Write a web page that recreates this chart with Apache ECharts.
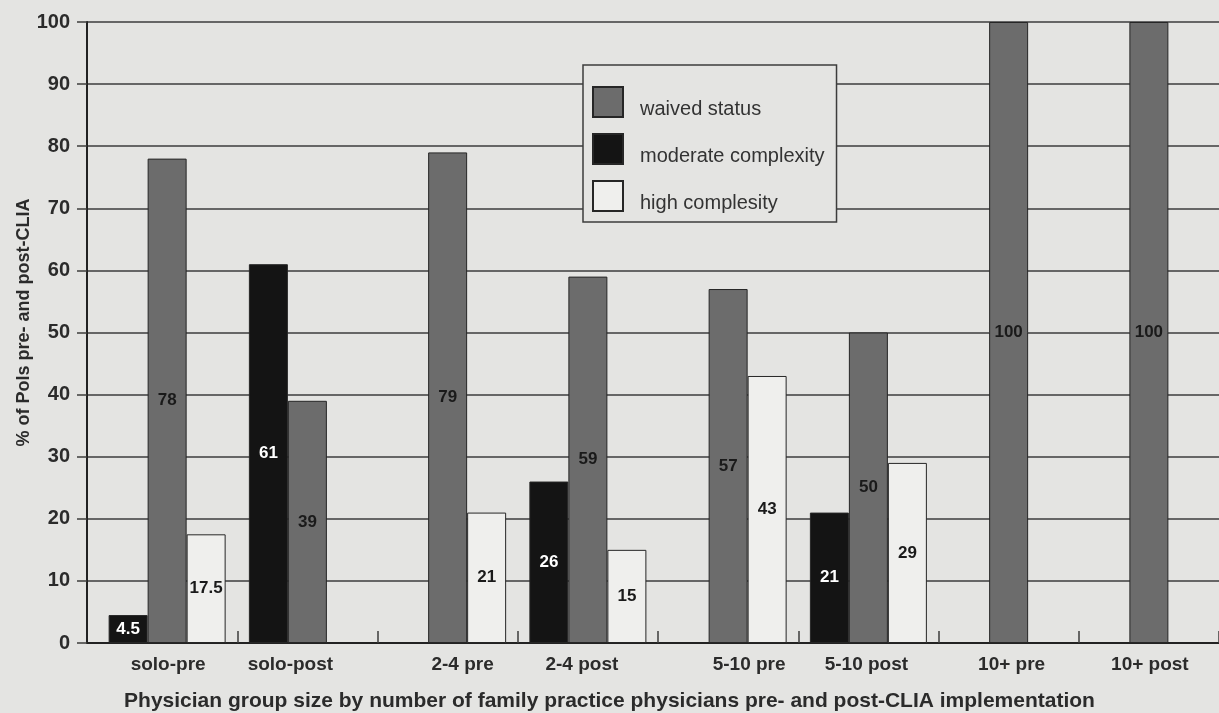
<!DOCTYPE html>
<html>
<head>
<meta charset="utf-8">
<title>Physician group size pre- and post-CLIA</title>
<script src="https://cdn.jsdelivr.net/npm/echarts@6/dist/echarts.min.js"></script>
<style>
  html, body { margin: 0; padding: 0; background: #e4e4e2; }
  #chart { width: 1219px; height: 713px; }
</style>
</head>
<body>
<div id="chart"></div>
<script>
// Physician group size categories
const categories = ['solo-pre', 'solo-post', '2-4 pre', '2-4 post', '5-10 pre', '5-10 post', '10+ pre', '10+ post'];

// % of POLs in each certificate level (null = not reported for that group)
const moderateComplexity = [4.5, 61, null, 26, null, 21, null, null];
const waivedStatus = [78, 39, 79, 59, 57, 50, 100, 100];
const highComplexity = [17.5, null, 21, 15, 43, 29, null, null];

// Value axis range
const yMin = 0;
const yMax = 100;
const yStep = 10;

const FONT = '"Liberation Sans", Arial, Helvetica, sans-serif';
const PAPER = '#e4e4e2';
const INK = '#2b2b2b';
const LINE = '#3c3c3c';

// hand-set horizontal nudge (px) of each category label under its group
const labelNudge = { 'solo-pre': 1, 'solo-post': -17, '2-4 pre': 15, '2-4 post': -6, '5-10 pre': 21, '5-10 post': -2, '10+ pre': 3, '10+ post': 1 };

const axisCategories = categories.map(function (c) {
  const n = labelNudge[c] || 0;
  return {
    value: c,
    textStyle: { padding: n >= 0 ? [0, 0, 0, 2 * n] : [0, -2 * n, 0, 0] }
  };
});

const chart = echarts.init(document.getElementById('chart'), null, { renderer: 'canvas' });

function barSeries(name, data, fill, labelColor) {
  return {
    name: name,
    type: 'bar',
    xAxisIndex: 1,
    yAxisIndex: 1,
    data: data,
    barWidth: 39,
    barGap: '0%',
    itemStyle: { color: fill, borderColor: '#262626', borderWidth: 1 },
    label: {
      show: true,
      position: 'inside',
      color: labelColor,
      fontFamily: FONT,
      fontWeight: 'bold',
      fontSize: 17
    },
    emphasis: { disabled: true },
    animation: false
  };
}

chart.setOption({
  backgroundColor: PAPER,
  animation: false,
  title: {
    text: 'Physician group size by number of family practice physicians pre- and post-CLIA implementation',
    left: 'center',
    top: 686,
    textStyle: { fontFamily: FONT, fontWeight: 'bold', fontSize: 21, color: INK }
  },
  legend: {
    orient: 'vertical',
    left: 583,
    top: 65,
    padding: [21, 12, 9, 9],
    itemGap: 14,
    itemWidth: 30,
    itemHeight: 30,
    icon: 'rect',
    backgroundColor: PAPER,
    borderColor: LINE,
    borderWidth: 1.5,
    borderRadius: 0,
    selectedMode: false,
    data: ['waived status', 'moderate complexity', 'high complesity'],
    formatter: function (name) { return '{t|' + name + '}'; },
    textStyle: {
      fontFamily: FONT,
      fontSize: 20,
      color: '#333',
      rich: {
        t: { fontFamily: FONT, fontSize: 20, color: '#333', padding: [14, 0, 0, 12] }
      }
    }
  },
  grid: [
    // frame: y axis, gridlines and baseline
    { left: 87, right: 0, top: 22, bottom: 70 },
    // bar area
    { left: 97, right: 0, top: 22, bottom: 70 }
  ],
  xAxis: [
    {
      type: 'value',
      gridIndex: 0,
      min: 0,
      max: 1,
      axisLine: { show: true, lineStyle: { color: '#222', width: 2 } },
      axisTick: { show: false },
      axisLabel: { show: false },
      splitLine: { show: false }
    },
    {
      type: 'category',
      gridIndex: 1,
      data: axisCategories,
      boundaryGap: true,
      axisLine: { show: false },
      axisTick: {
        show: true,
        inside: true,
        length: 12,
        interval: function (i) { return i > 0; },
        lineStyle: { color: LINE, width: 1.5 }
      },
      axisLabel: {
        interval: 0,
        margin: 12,
        fontFamily: FONT,
        fontWeight: 'bold',
        fontSize: 19,
        color: INK
      },
      splitLine: { show: false }
    }
  ],
  yAxis: [
    {
      type: 'value',
      gridIndex: 0,
      min: yMin,
      max: yMax,
      interval: yStep,
      name: '% of Pols pre- and post-CLIA',
      nameLocation: 'middle',
      nameGap: 54,
      nameMoveOverlap: false,
      nameTextStyle: { fontFamily: FONT, fontWeight: 'bold', fontSize: 18, color: INK, padding: [0, 0, 0, 20] },
      axisLine: { show: true, lineStyle: { color: '#222', width: 2 } },
      axisTick: { show: true, length: 10, lineStyle: { color: LINE, width: 1.5 } },
      axisLabel: { margin: 17, fontFamily: FONT, fontWeight: 'bold', fontSize: 20, color: INK },
      splitLine: { show: true, lineStyle: { color: LINE, width: 1.5 } }
    },
    {
      type: 'value',
      gridIndex: 1,
      min: yMin,
      max: yMax,
      interval: yStep,
      show: false,
      splitLine: { show: false }
    }
  ],
  series: [
    barSeries('moderate complexity', moderateComplexity, '#141414', '#ffffff'),
    barSeries('waived status', waivedStatus, '#6c6c6c', '#1a1a1a'),
    barSeries('high complesity', highComplexity, '#efefed', '#1a1a1a')
  ]
});
</script>
</body>
</html>
